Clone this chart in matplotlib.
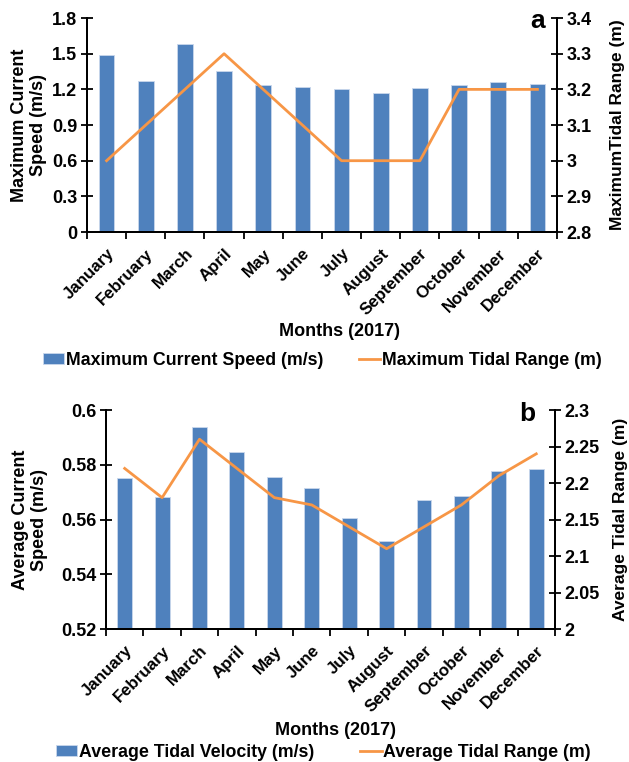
import matplotlib
matplotlib.use("Agg")
import matplotlib.pyplot as plt
import numpy as np
from matplotlib.ticker import FixedLocator, FuncFormatter
from matplotlib.patches import Patch
from matplotlib.lines import Line2D
from matplotlib.transforms import ScaledTranslation

plt.rcParams['font.family'] = ['Liberation Sans', 'DejaVu Sans']
plt.rcParams['font.weight'] = 'bold'

months = ["January", "February", "March", "April", "May", "June", "July",
          "August", "September", "October", "November", "December"]
max_speed = [1.486, 1.27, 1.581, 1.356, 1.236, 1.22, 1.2, 1.17, 1.208, 1.236, 1.264, 1.244]
max_tide = [3.0, 3.1, 3.2, 3.3, 3.2, 3.1, 3.0, 3.0, 3.0, 3.2, 3.2, 3.2]
avg_speed = [0.5752, 0.5682, 0.5939, 0.5848, 0.5757, 0.5714, 0.5604, 0.5523,
             0.5673, 0.5685, 0.5777, 0.5784]
avg_tide = [2.22, 2.18, 2.26, 2.22, 2.18, 2.17, 2.14, 2.11, 2.14, 2.17, 2.21, 2.24]

BLUE = "#4F81BD"
ORANGE = "#F79646"
FS = 13
FS_MONTH = 12.2
FS_LEG = 12.8

fig = plt.figure(figsize=(6.29, 7.62), dpi=100)


def fmt(v, pos):
    return ("%g" % round(v, 4))


def panel(rect, bars, line, ylim_l, step_l, ylim_r, step_r, ylab_l, ylab_r,
          ylab_x, ylab_rx, letter, letter_pos, xlab_pos, leg_labels, leg_pos, colsp):
    ax = fig.add_axes(rect)
    x = np.arange(len(months))
    ax.bar(x, bars, width=0.4, color=BLUE, edgecolor="#c9d7ec", linewidth=0.6, zorder=2)
    ax.set_xlim(-0.5, len(months) - 0.5)
    ax.set_ylim(*ylim_l)
    ax.yaxis.set_major_locator(FixedLocator(np.arange(ylim_l[0], ylim_l[1] + step_l / 2, step_l)))
    ax.yaxis.set_major_formatter(FuncFormatter(fmt))
    ax.xaxis.set_major_locator(FixedLocator(np.arange(-0.5, len(months), 1.0)))
    ax.xaxis.set_major_formatter(FuncFormatter(lambda v, p: ""))
    ax.xaxis.set_minor_locator(FixedLocator(x))
    ax.set_xticklabels(months, minor=True, rotation=45, ha="right", va="top",
                       rotation_mode="anchor", fontsize=FS_MONTH, fontweight="bold")
    off = ScaledTranslation(1 / 100, 0, fig.dpi_scale_trans)
    for lab in ax.get_xticklabels(minor=True):
        lab.set_transform(lab.get_transform() + off)
    ax.tick_params(axis="x", which="major", direction="out", length=5, width=1.3)
    ax.tick_params(axis="x", which="minor", length=0, pad=10)
    ax.tick_params(axis="y", direction="inout", length=8, width=1.3, labelsize=FS, pad=3)
    for s in ["left", "bottom", "right"]:
        ax.spines[s].set_linewidth(1.4)
    ax.spines["top"].set_visible(False)

    ax2 = ax.twinx()
    ax2.plot(x, line, color=ORANGE, linewidth=2.0, zorder=3)
    ax2.set_ylim(*ylim_r)
    ax2.yaxis.set_major_locator(FixedLocator(np.arange(ylim_r[0], ylim_r[1] + step_r / 2, step_r)))
    ax2.yaxis.set_major_formatter(FuncFormatter(fmt))
    ax2.tick_params(axis="y", direction="inout", length=8, width=1.3, labelsize=FS, pad=3)
    for s in ["left", "bottom", "right"]:
        ax2.spines[s].set_linewidth(1.4)
    ax2.spines["top"].set_visible(False)
    for lab in ax.get_yticklabels() + ax2.get_yticklabels():
        lab.set_fontweight("bold")

    cy = rect[1] + rect[3] / 2
    fig.text(ylab_x, cy, ylab_l, rotation=90, ha="center", va="center",
             fontsize=FS, fontweight="bold", linespacing=1.15)
    fig.text(ylab_rx, cy, ylab_r, rotation=90, ha="center", va="center",
             fontsize=FS - 0.5, fontweight="bold")
    fig.text(letter_pos[0], letter_pos[1], letter, ha="center", va="center",
             fontsize=19, fontweight="bold")
    fig.text(xlab_pos[0], xlab_pos[1], "Months (2017)", ha="center", va="center",
             fontsize=FS, fontweight="bold")
    handles = [Patch(facecolor=BLUE, edgecolor="#c9d7ec", linewidth=0.6),
               Line2D([0], [0], color=ORANGE, linewidth=2.0)]
    fig.legend(handles, leg_labels, loc="center", bbox_to_anchor=leg_pos, ncol=2,
               frameon=False, handlelength=1.2, handleheight=0.6, handletextpad=0.1,
               columnspacing=colsp, prop={"size": FS_LEG, "weight": "bold"})
    return ax, ax2


panel([0.1383, 0.6955, 0.7472, 0.2808], max_speed, max_tide, (0, 1.8), 0.3,
      (2.8, 3.4), 0.1, "Maximum Current\nSpeed (m/s)", "MaximumTidal Range (m)",
      0.046, 0.982, "a", (0.854, 0.972), (0.539, 0.565),
      ["Maximum Current Speed (m/s)", "Maximum Tidal Range (m)"], (0.512, 0.527), 2.0)

panel([0.1685, 0.1745, 0.7138, 0.2874], avg_speed, avg_tide, (0.52, 0.6), 0.02,
      (2.0, 2.3), 0.05, "Average Current\nSpeed (m/s)", "Average Tidal Range (m)",
      0.048, 0.987, "b", (0.838, 0.457), (0.533, 0.041),
      ["Average Tidal Velocity (m/s)", "Average Tidal Range (m)"], (0.514, 0.013), 2.6)

fig.savefig("out.png", dpi=100)
